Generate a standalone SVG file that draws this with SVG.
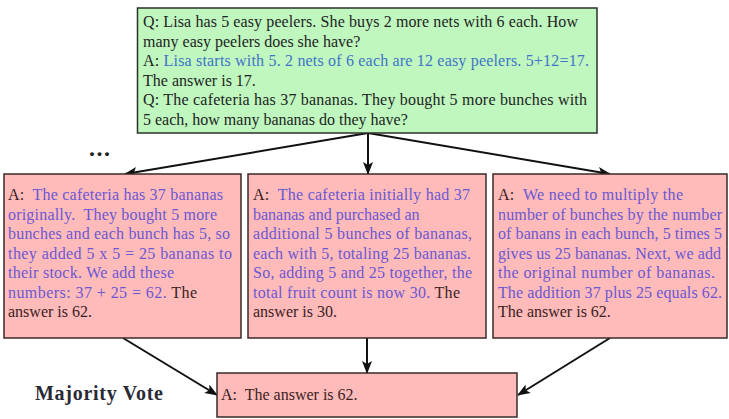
<svg xmlns="http://www.w3.org/2000/svg" width="729" height="419" viewBox="0 0 729 419">
<defs>
<marker id="arr" markerUnits="userSpaceOnUse" markerWidth="13" markerHeight="10" refX="12" refY="5" orient="auto">
<path d="M0,0 L13,5 L0,10 L3,5 Z" fill="#111"/>
</marker>
<style>
text{font-family:"Liberation Serif","Times New Roman",serif;font-size:16px;fill:#1e241e}
.green{fill:#bff7bf;stroke:#2a332a;stroke-width:1.5}
.pink{fill:#ffbaba;stroke:#3a2a2a;stroke-width:1.5}
.blue{fill:#3f74c8}
.pur{fill:#6a58d2}
.dk{fill:#3a2222}
.edge{stroke:#111;stroke-width:2;fill:none;marker-end:url(#arr)}
.bold{font-weight:bold}
.lbl{font-size:20px;fill:#2a2a35}
.dots{font-size:24px}
</style>
</defs>
<g id="connectors">
<path class="edge" d="M368,133 L125,174"/>
<path class="edge" d="M368,133 L368,174"/>
<path class="edge" d="M368,133 L610,174"/>
<path class="edge" d="M123,338 L217,395"/>
<path class="edge" d="M367,338 L367,373"/>
<path class="edge" d="M610,338 L518,395"/>
</g>
<g id="prompt">
<rect class="green" x="137.5" y="8" width="459.5" height="125"/>
<text x="143" y="27" textLength="435" lengthAdjust="spacing">Q: Lisa has 5 easy peelers. She buys 2 more nets with 6 each. How</text>
<text x="143" y="46.5">many easy peelers does she have?</text>
<text x="143" y="66" textLength="446" lengthAdjust="spacing">A: <tspan class="blue">Lisa starts with 5. 2 nets of 6 each are 12 easy peelers. 5+12=17.</tspan></text>
<text x="143" y="85.5">The answer is 17.</text>
<text x="143" y="105" textLength="444" lengthAdjust="spacing">Q: The cafeteria has 37 bananas. They bought 5 more bunches with</text>
<text x="143" y="124.5">5 each, how many bananas do they have?</text>
</g>
<g id="dots">
<text class="bold dots" x="89" y="156" textLength="21" lengthAdjust="spacing">...</text>
</g>
<g id="path1">
<rect class="pink" x="4" y="174" width="237" height="164"/>
<text x="8" y="200" textLength="215" lengthAdjust="spacing" xml:space="preserve"><tspan class="dk">A:</tspan><tspan class="pur">  The cafeteria has 37 bananas</tspan></text>
<text class="pur" x="8" y="219.5" textLength="209" lengthAdjust="spacing" xml:space="preserve">originally.  They bought 5 more</text>
<text class="pur" x="8" y="239" textLength="222" lengthAdjust="spacing">bunches and each bunch has 5, so</text>
<text class="pur" x="8" y="258.5" textLength="224" lengthAdjust="spacing">they added 5 x 5 = 25 bananas to</text>
<text class="pur" x="8" y="278" textLength="166" lengthAdjust="spacing">their stock. We add these</text>
<text x="8" y="297.5" textLength="189" lengthAdjust="spacing"><tspan class="pur">numbers: 37 + 25 = 62.</tspan><tspan class="dk"> The</tspan></text>
<text class="dk" x="8" y="317">answer is 62.</text>
</g>
<g id="path2">
<rect class="pink" x="248" y="174" width="238" height="164"/>
<text x="253" y="200" textLength="217" lengthAdjust="spacing" xml:space="preserve"><tspan class="dk">A:</tspan><tspan class="pur">  The cafeteria initially had 37</tspan></text>
<text class="pur" x="253" y="219.5">bananas and purchased an</text>
<text class="pur" x="253" y="239" textLength="219" lengthAdjust="spacing">additional 5 bunches of bananas,</text>
<text class="pur" x="253" y="258.5" textLength="218" lengthAdjust="spacing">each with 5, totaling 25 bananas.</text>
<text class="pur" x="253" y="278" textLength="219" lengthAdjust="spacing">So, adding 5 and 25 together, the</text>
<text x="253" y="297.5" textLength="207" lengthAdjust="spacing"><tspan class="pur">total fruit count is now 30.</tspan><tspan class="dk"> The</tspan></text>
<text class="dk" x="253" y="317">answer is 30.</text>
</g>
<g id="path3">
<rect class="pink" x="493" y="174" width="234" height="164"/>
<text x="498" y="200" textLength="185" lengthAdjust="spacing" xml:space="preserve"><tspan class="dk">A:</tspan><tspan class="pur">  We need to multiply the</tspan></text>
<text class="pur" x="498" y="219.5" textLength="224" lengthAdjust="spacing">number of bunches by the number</text>
<text class="pur" x="498" y="239" textLength="224" lengthAdjust="spacing">of banans in each bunch, 5 times 5</text>
<text class="pur" x="498" y="258.5" textLength="223" lengthAdjust="spacing">gives us 25 bananas. Next, we add</text>
<text class="pur" x="498" y="278" textLength="217" lengthAdjust="spacing">the original number of bananas.</text>
<text class="pur" x="498" y="297.5" textLength="224" lengthAdjust="spacing">The addition 37 plus 25 equals 62.</text>
<text class="dk" x="498" y="317">The answer is 62.</text>
</g>
<g id="vote">
<rect class="pink" x="217" y="373" width="300" height="44"/>
<text class="dk" x="221" y="400" xml:space="preserve">A:  The answer is 62.</text>
</g>
<g id="label">
<text class="bold lbl" x="35" y="400" textLength="128" lengthAdjust="spacing">Majority Vote</text>
</g>
</svg>
